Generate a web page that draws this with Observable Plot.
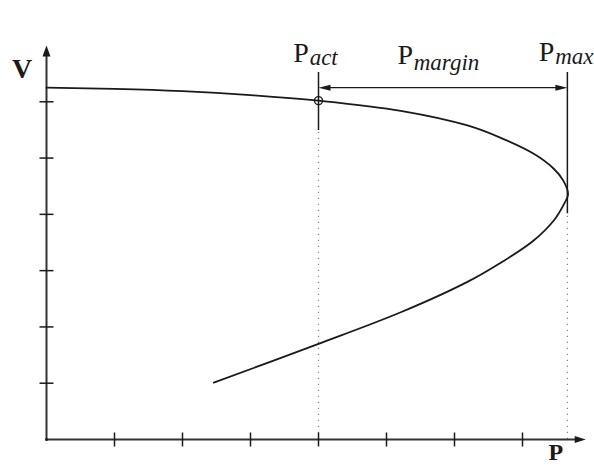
<!DOCTYPE html>
<html><head><meta charset="utf-8">
<script src="https://cdn.jsdelivr.net/npm/d3@7"></script>
<script src="https://cdn.jsdelivr.net/npm/@observablehq/plot@0.6"></script>
<style>body{margin:0;background:#fff}</style>
</head><body><div id="chart"></div>
<script>
// P–V nose curve (upper branch then lower branch)
const curveP = [0, 1, 2, 3, 4, 5.21, 6.19, 6.68, 7.16, 7.46, 7.60, 7.67, 7.60, 7.46, 7.16, 6.68, 6.19, 5.21, 3.98, 2.46];
const curveV = [6.25, 6.23, 6.19, 6.12, 6.02, 5.84, 5.58, 5.36, 5.08, 4.81, 4.60, 4.36, 4.16, 3.89, 3.53, 3.14, 2.80, 2.26, 1.69, 1.01];
const pTicks = [1, 2, 3, 4, 5, 6, 7];
const vTicks = [1, 2, 3, 4, 5, 6];
const pAct = 4, vAct = 6.02, pMax = 7.66;
const vMargin = 6.25;
const guideTop = 6.52;
const guideSolidBottom = [5.49, 4.01]; // Pact, Pmax
const pAxisEnd = 7.93, vAxisEnd = 7;
const mainLabels = ["P", "P", "P"];
const mainLabelP = [3.63, 5.16, 7.24];
const mainLabelV = [6.70, 6.68, 6.73];
const subLabels = ["act", "margin", "max"];
const subLabelP = [3.87, 5.40, 7.48];
const subLabelV = [6.65, 6.57, 6.67];
const axisLabels = ["V", "P"];
const axisLabelP = [-0.36, 7.49];
const axisLabelV = [6.43, -0.36];

const curve = curveP.map((p, i) => ({P: p, V: curveV[i]}));
const guides = [pAct, pMax].map((p, i) => ({P: p, top: guideTop, mid: guideSolidBottom[i]}));
const mains = mainLabels.map((t, i) => ({t, P: mainLabelP[i], V: mainLabelV[i]}));
const subs = subLabels.map((t, i) => ({t, P: subLabelP[i], V: subLabelV[i]}));
const axl = axisLabels.map((t, i) => ({t, P: axisLabelP[i], V: axisLabelV[i]}));

const head = (len, hw) => ({draw(ctx) { ctx.moveTo(0, 0); ctx.lineTo(-hw, len); ctx.lineTo(hw, len); ctx.closePath(); }});
const tickSym = {draw(ctx) { ctx.moveTo(0, -7); ctx.lineTo(0, 7); }};
const ink = "#1a1a1a";
const serif = "Liberation Serif, Times New Roman, serif";

const chart = Plot.plot({
  width: 594, height: 467,
  marginLeft: 46, marginRight: 4, marginTop: 45, marginBottom: 28,
  x: {domain: [0, 8], axis: null},
  y: {domain: [0, 7], axis: null},
  style: {background: "#fff", fontFamily: serif},
  marks: [
    Plot.ruleX(guides, {x: "P", y1: 0, y2: "mid", stroke: "#8a8a8a", strokeWidth: 1.3, strokeDasharray: "1.3,4.7"}),
    Plot.ruleX(guides, {x: "P", y1: "mid", y2: "top", stroke: ink, strokeWidth: 1.5}),
    Plot.ruleY([0], {x1: 0, x2: pAxisEnd - 0.1, stroke: "#333", strokeWidth: 2}),
    Plot.ruleX([0], {y1: 0, y2: vAxisEnd - 0.12, stroke: "#333", strokeWidth: 2}),
    Plot.dot([0], {x: pAxisEnd, y: 0, symbol: head(11, 3.5), rotate: 90, fill: ink, stroke: "none"}),
    Plot.dot([0], {x: 0, y: vAxisEnd, symbol: head(11, 4), rotate: 0, fill: ink, stroke: "none"}),
    Plot.dot(pTicks, {x: d => d, y: 0, symbol: tickSym, fill: "none", stroke: ink, strokeWidth: 1.5}),
    Plot.dot(vTicks, {x: 0, y: d => d, symbol: tickSym, rotate: 90, fill: "none", stroke: ink, strokeWidth: 1.5}),
    Plot.dot([0], {x: 0, y: 0, r: 1.5, fill: ink}),
    Plot.line(curve, {x: "P", y: "V", curve: "catmull-rom", stroke: ink, strokeWidth: 1.8}),
    Plot.dot([0], {x: pAct, y: vAct, r: 4, fill: "none", stroke: ink, strokeWidth: 1.4}),
    Plot.ruleY([vMargin], {x1: pAct + 0.1, x2: pMax - 0.1, stroke: ink, strokeWidth: 1.3}),
    Plot.dot([0], {x: pMax, y: vMargin, symbol: head(12, 3), rotate: 90, fill: ink, stroke: "none"}),
    Plot.dot([0], {x: pAct, y: vMargin, symbol: head(12, 3), rotate: -90, fill: ink, stroke: "none"}),
    Plot.text(mains, {x: "P", y: "V", text: "t", textAnchor: "start", lineAnchor: "bottom", fontSize: 28, fill: ink}),
    Plot.text(subs, {x: "P", y: "V", text: "t", textAnchor: "start", lineAnchor: "bottom", fontSize: 23, fontStyle: "italic", fill: ink}),
    Plot.text(axl.slice(0, 1), {x: "P", y: "V", text: "t", textAnchor: "middle", lineAnchor: "bottom", fontSize: 28, fontWeight: "bold", fill: ink}),
    Plot.text(axl.slice(1), {x: "P", y: "V", text: "t", textAnchor: "middle", lineAnchor: "bottom", fontSize: 24, fontWeight: "bold", fill: ink})
  ]
});
document.getElementById("chart").appendChild(chart);
</script>
</body></html>
